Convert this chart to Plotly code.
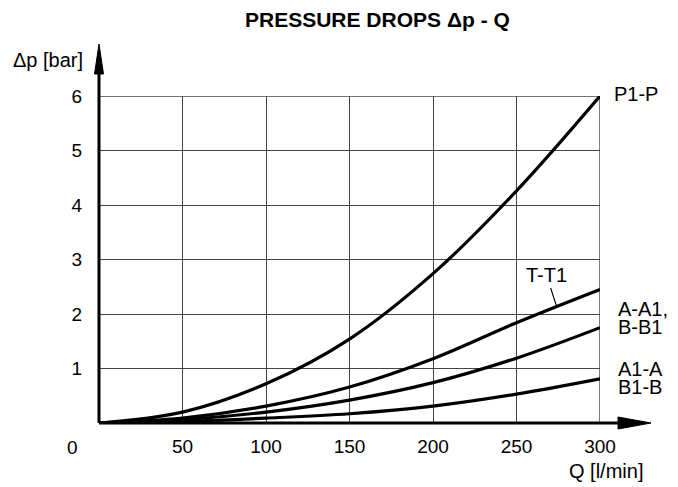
import plotly.graph_objects as go

Q = [0, 50, 100, 150, 200, 250, 300]
dp_P1_P = [0, 0.20, 0.72, 1.54, 2.74, 4.26, 6.0]
dp_T_T1 = [0, 0.09, 0.31, 0.66, 1.18, 1.84, 2.45]
dp_A_A1 = [0, 0.06, 0.20, 0.42, 0.74, 1.19, 1.75]
dp_A1_A = [0, 0.03, 0.09, 0.17, 0.31, 0.53, 0.81]

x_ticks = [50, 100, 150, 200, 250, 300]
y_ticks = [1, 2, 3, 4, 5, 6]

FONT = "Liberation Sans, Arial, sans-serif"
W, H = 678, 487
OFF = 8  # page body offset
L, T = 99 - OFF, 96 - OFF
PW, PH = 501, 327
R, B = W - L - PW, H - T - PH

def px(x):
    return (x - 99) / PW

def py(y):
    return (423 - y) / PH

fig = go.Figure()
for ys in [dp_P1_P, dp_T_T1, dp_A_A1, dp_A1_A]:
    fig.add_trace(go.Scatter(x=Q, y=ys, mode="lines",
                             line=dict(color="black", width=3.2, shape="spline", smoothing=1.0),
                             showlegend=False, hoverinfo="skip", cliponaxis=False))

GRID = "#444"
shapes = [
    dict(type="line", xref="x", yref="y", x0=x_ticks[-1], x1=x_ticks[-1], y0=0, y1=y_ticks[-1],
         line=dict(color=GRID, width=1.4), layer="below"),
    dict(type="line", xref="x", yref="y", x0=0, x1=x_ticks[-1], y0=y_ticks[-1], y1=y_ticks[-1],
         line=dict(color=GRID, width=1.4), layer="below"),
    dict(type="line", xref="paper", yref="paper", x0=0, y0=0, x1=px(625), y1=0,
         line=dict(color="black", width=3)),
    dict(type="path", xref="paper", yref="paper",
         path=f"M {px(618)} {py(417)} L {px(651)} {py(423)} L {px(618)} {py(429)} Z",
         fillcolor="black", line=dict(color="black", width=1)),
    dict(type="line", xref="paper", yref="paper", x0=0, y0=0, x1=0, y1=py(70),
         line=dict(color="black", width=3)),
    dict(type="path", xref="paper", yref="paper",
         path=f"M {px(94.5)} {py(74)} L {px(99)} {py(44)} L {px(103.5)} {py(74)} Z",
         fillcolor="black", line=dict(color="black", width=1)),
]

fs = 19
fl = 20

def lab(text, x, y, xa="center", size=fl):
    return dict(text=text, xref="paper", yref="paper", x=px(x), y=py(y),
                xanchor=xa, yanchor="middle", showarrow=False,
                font=dict(size=size, color="black", family=FONT))

annotations = [
    lab("<b>PRESSURE DROPS Δp - Q</b>", 377, 20, size=21),
    lab("Δp [bar]", 85, 60, xa="right"),
    lab("Q [l/min]", 645, 471, xa="right"),
    lab("0", 72, 447, size=fs),
    lab("P1-P", 612, 94, xa="left"),
    lab("A-A1,", 616, 309, xa="left"),
    lab("B-B1", 616, 327, xa="left"),
    lab("A1-A", 616, 369, xa="left"),
    lab("B1-B", 616, 387, xa="left"),
    dict(text="T-T1", x=274, y=2.14, xref="x", yref="y", ax=-10, ay=-31,
         showarrow=True, arrowhead=0, arrowwidth=1.2, arrowcolor="black", standoff=0,
         font=dict(size=fl, color="black", family=FONT)),
]

fig.update_layout(
    width=W, height=H,
    margin=dict(l=L, r=R, t=T, b=B, autoexpand=False),
    paper_bgcolor="white", plot_bgcolor="white",
    shapes=shapes, annotations=annotations,
    font=dict(family=FONT, size=fs, color="black"),
    xaxis=dict(range=[0, 300], tickvals=x_ticks, showgrid=True, gridcolor=GRID,
               gridwidth=1.4, zeroline=False, showline=False, ticks="", automargin=False,
               ticklabelstandoff=10, tickfont=dict(size=fs, family=FONT, color="black")),
    yaxis=dict(range=[0, 6], tickvals=y_ticks, showgrid=True, gridcolor=GRID,
               gridwidth=1.4, zeroline=False, showline=False, ticks="", automargin=False,
               ticklabelstandoff=16, tickfont=dict(size=fs, family=FONT, color="black")),
)

fig.write_html("out.html")
